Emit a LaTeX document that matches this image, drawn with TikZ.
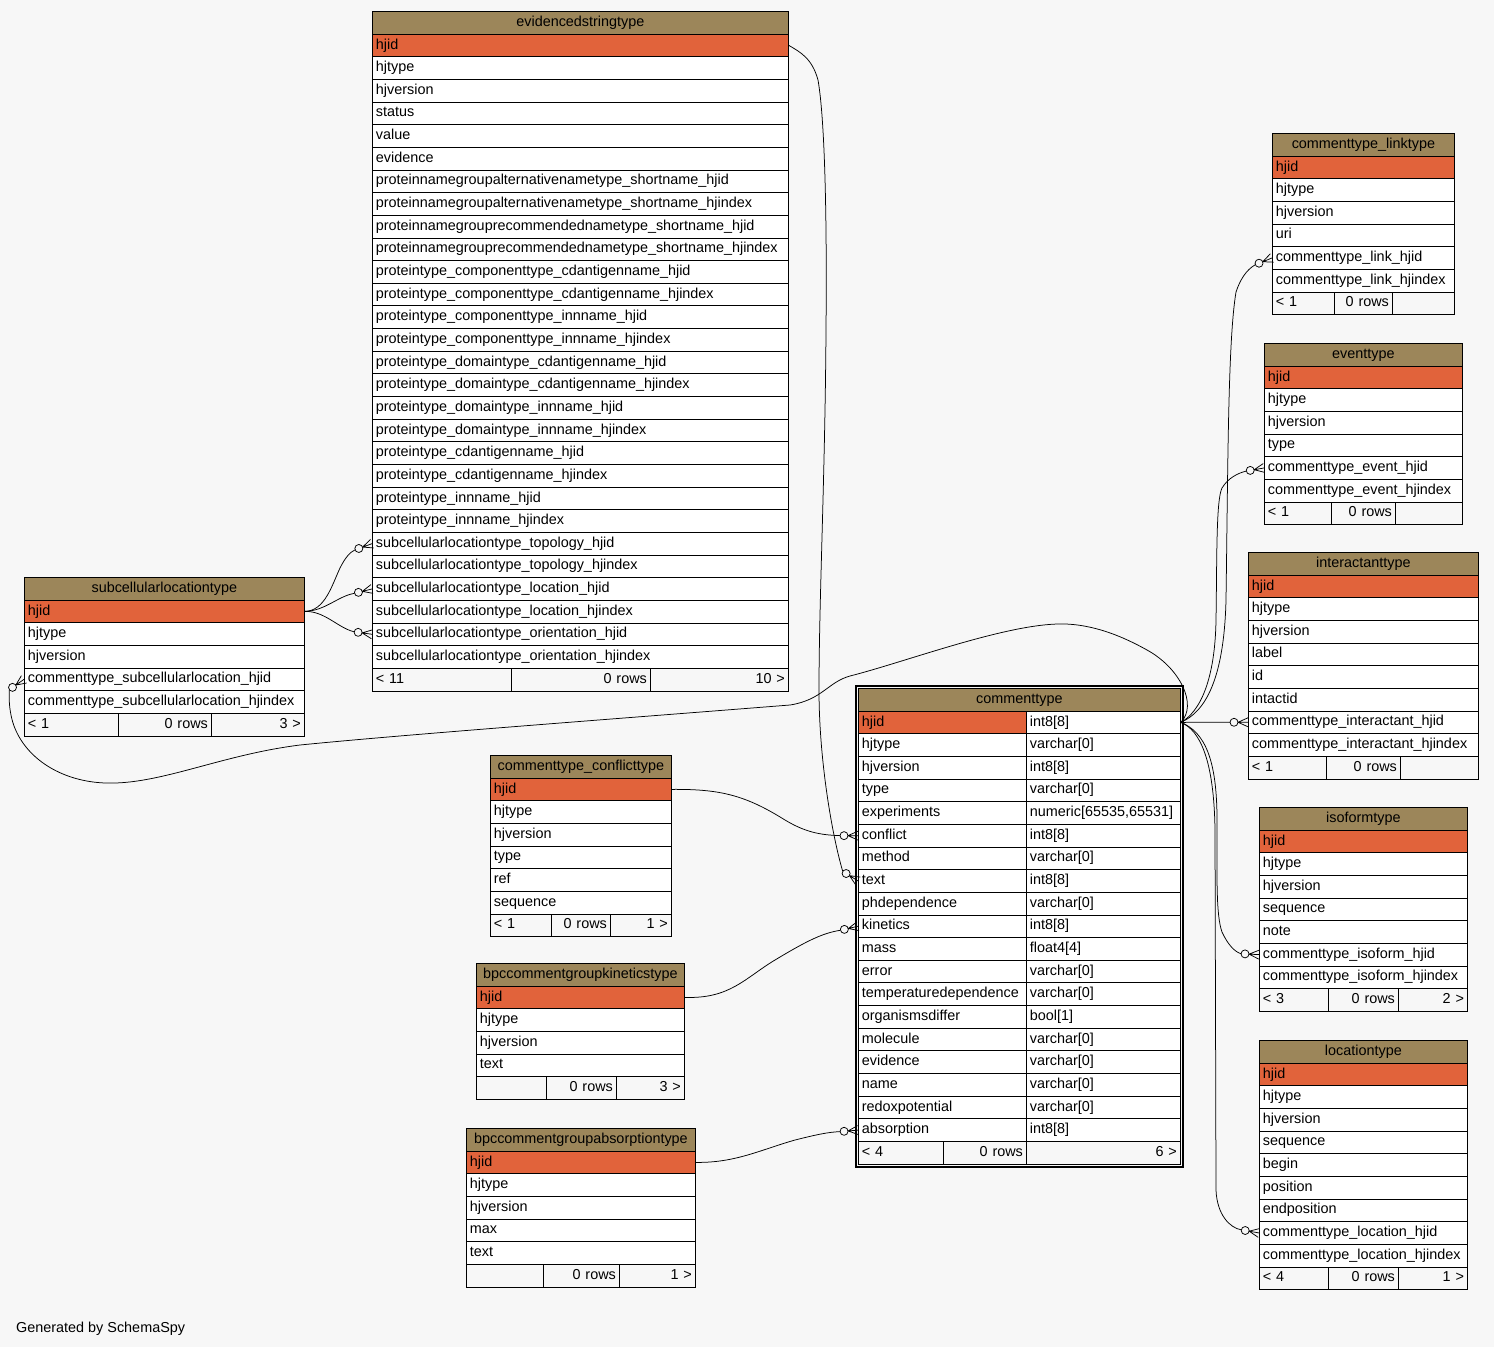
\documentclass[tikz,border=0pt]{standalone}
\usepackage{fontspec}
\setmainfont{Liberation Sans}
\usetikzlibrary{calc}

\definecolor{paper}{HTML}{F7F7F7}
\definecolor{headfill}{HTML}{9C865A}
\definecolor{keyfill}{HTML}{E1633B}

\newcommand\rowh{22.65}
\newcommand\cellfont{\fontsize{14.4}{17}\selectfont}

\tikzset{
  cell/.style={draw=black, line width=0.8pt, anchor=north west,
    inner xsep=3.5pt, inner ysep=0pt, minimum height=\rowh pt,
    text height=10.5pt, text depth=3.2pt, align=left, font=\cellfont},
  headcell/.style={cell, fill=headfill, align=center},
  keycell/.style={cell, fill=keyfill},
  fieldcell/.style={cell, fill=white},
  footcell/.style={cell, fill=paper},
  fk/.style={draw=black, line width=0.75pt},
}

% "zero or many" end of a relationship at anchor #1; #2 is the direction the line comes from
\newcommand\crowend[2]{%
  \draw[fk, fill=paper] ($(#1)+(#2:14)$) circle[radius=4];
  \draw[fk] ($(#1)+(#2:10)$) -- ($(#1)+({#2+90}:4.5)$)
            ($(#1)+(#2:10)$) -- (#1)
            ($(#1)+(#2:10)$) -- ($(#1)+({#2-90}:4.5)$);
}

\newcommand\footsplit[2]{\def\footleft{#1}\def\footright{#2}}

% #1 id, #2 left x, #3 right x, #4 top y, #5 title, #6 columns after hjid,
% #7 and #8 footer dividers, #9 footer texts {left}{right}
\newcommand\dbtable[9]{%
  \pgfmathsetmacro\tw{#3-#2-7}%
  \footsplit#9%
  \node[headcell, text width=\tw pt] (#1) at (#2,#4) {#5};
  \node[keycell, text width=\tw pt] (#1-hjid) at (#2,#4+\rowh) {hjid};
  \foreach \f [count=\i from 2] in {#6} {
    \node[fieldcell, text width=\tw pt] (#1-\f) at (#2,#4+\i*\rowh) {\f};
    \xdef\nrows{\i}
  }
  \pgfmathsetmacro\fy{#4+(\nrows+1)*\rowh}%
  \pgfmathsetmacro\wa{#7-#2-7}%
  \pgfmathsetmacro\wb{#8-#7-7}%
  \pgfmathsetmacro\wc{#3-#8-7}%
  \node[footcell, text width=\wa pt] (#1-fa) at (#2,\fy) {\footleft};
  \node[footcell, text width=\wb pt, align=right] (#1-fb) at (#7,\fy) {0 rows};
  \node[footcell, text width=\wc pt, align=right] (#1-fc) at (#8,\fy) {\footright};
}

\begin{document}
\catcode`\_=12
\lefthyphenmin=62
\righthyphenmin=62
\hyphenpenalty=10000
\begin{tikzpicture}[x=1pt, y=-1pt]
\useasboundingbox[fill=paper] (0,0) rectangle (1494,1347);

% ---------- tables ----------
\dbtable{est}{372}{788}{11}{evidencedstringtype}{hjtype, hjversion, status, value, evidence,
  proteinnamegroupalternativenametype_shortname_hjid, proteinnamegroupalternativenametype_shortname_hjindex,
  proteinnamegrouprecommendednametype_shortname_hjid, proteinnamegrouprecommendednametype_shortname_hjindex,
  proteintype_componenttype_cdantigenname_hjid, proteintype_componenttype_cdantigenname_hjindex,
  proteintype_componenttype_innname_hjid, proteintype_componenttype_innname_hjindex,
  proteintype_domaintype_cdantigenname_hjid, proteintype_domaintype_cdantigenname_hjindex,
  proteintype_domaintype_innname_hjid, proteintype_domaintype_innname_hjindex,
  proteintype_cdantigenname_hjid, proteintype_cdantigenname_hjindex,
  proteintype_innname_hjid, proteintype_innname_hjindex,
  subcellularlocationtype_topology_hjid, subcellularlocationtype_topology_hjindex,
  subcellularlocationtype_location_hjid, subcellularlocationtype_location_hjindex,
  subcellularlocationtype_orientation_hjid, subcellularlocationtype_orientation_hjindex}{511}{650}{{< 11}{10 >}}

\dbtable{sub}{24}{304}{577}{subcellularlocationtype}{hjtype, hjversion,
  commenttype_subcellularlocation_hjid, commenttype_subcellularlocation_hjindex}{118}{211}{{< 1}{3 >}}

\dbtable{lnk}{1272}{1454}{133}{commenttype_linktype}{hjtype, hjversion, uri,
  commenttype_link_hjid, commenttype_link_hjindex}{1334}{1392}{{< 1}{}}

\dbtable{evt}{1264}{1462}{343}{eventtype}{hjtype, hjversion, type,
  commenttype_event_hjid, commenttype_event_hjindex}{1331}{1395}{{< 1}{}}

\dbtable{ita}{1248}{1478}{552}{interactanttype}{hjtype, hjversion, label, id, intactid,
  commenttype_interactant_hjid, commenttype_interactant_hjindex}{1326}{1400}{{< 1}{}}

\dbtable{iso}{1259}{1467}{807}{isoformtype}{hjtype, hjversion, sequence, note,
  commenttype_isoform_hjid, commenttype_isoform_hjindex}{1328}{1398}{{< 3}{2 >}}

\dbtable{loc}{1259}{1467}{1040}{locationtype}{hjtype, hjversion, sequence, begin, position, endposition,
  commenttype_location_hjid, commenttype_location_hjindex}{1328}{1398}{{< 4}{1 >}}

\dbtable{cf}{490}{671}{755}{commenttype_conflicttype}{hjtype, hjversion, type, ref, sequence}{551}{610}{{< 1}{1 >}}

\dbtable{kin}{476}{684}{963}{bpccommentgroupkineticstype}{hjtype, hjversion, text}{546}{616}{{}{3 >}}

\dbtable{abs}{466}{695}{1128}{bpccommentgroupabsorptiontype}{hjtype, hjversion, max, text}{543}{619}{{}{1 >}}

% commenttype: two columns and a double frame
\node[headcell, text width=315pt] (ct) at (858,688) {commenttype};
\node[keycell, text width=161pt] (ct-hjid) at (858,688+\rowh) {hjid};
\node[fieldcell, text width=147pt] (ct-hjid-t) at (1026,688+\rowh) {int8[8]};
\foreach \f/\t [count=\i from 2] in {hjtype/varchar[0], hjversion/int8[8], type/varchar[0],
    experiments/{numeric[65535,65531]}, conflict/int8[8], method/varchar[0], text/int8[8],
    phdependence/varchar[0], kinetics/int8[8], mass/float4[4], error/varchar[0],
    temperaturedependence/varchar[0], organismsdiffer/bool[1], molecule/varchar[0],
    evidence/varchar[0], name/varchar[0], redoxpotential/varchar[0], absorption/int8[8]} {
  \node[fieldcell, text width=161pt] (ct-\f) at (858,688+\i*\rowh) {\f};
  \node[fieldcell, text width=147pt] (ct-\f-t) at (1026,688+\i*\rowh) {\t};
}
\node[footcell, text width=78pt] (ct-fa) at (858,688+20*\rowh) {< 4};
\node[footcell, text width=76pt, align=right] (ct-fb) at (943,688+20*\rowh) {0 rows};
\node[footcell, text width=147pt, align=right] (ct-fc) at (1026,688+20*\rowh) {6 >};
\draw[line width=2pt] (855.5,685.5) rectangle (1182.5,1167.3);

% ---------- relationships ----------
\draw[fk] (est-hjid.east) .. controls (800,52) and (812,58) .. (818,80)
  .. controls (825,120) and (827,220) .. (826,330)
  .. controls (825,480) and (819,600) .. (819,690)
  .. controls (819,760) and (832,835) .. ($(ct-text.west)+(212:18)$);
\crowend{ct-text.west}{212}

\draw[fk] (sub-hjid.east) .. controls (325,611) and (332,585) .. (340,568)
  .. controls (345,558) and (350,552) .. ($(est-subcellularlocationtype_topology_hjid.west)+(160:18)$);
\crowend{est-subcellularlocationtype_topology_hjid.west}{160}
\draw[fk] (sub-hjid.east) .. controls (325,611) and (338,596) .. ($(est-subcellularlocationtype_location_hjid.west)+(166:18)$);
\crowend{est-subcellularlocationtype_location_hjid.west}{166}
\draw[fk] (sub-hjid.east) .. controls (325,611) and (338,628) .. ($(est-subcellularlocationtype_orientation_hjid.west)+(188:18)$);
\crowend{est-subcellularlocationtype_orientation_hjid.west}{188}

\draw[fk] (ct-hjid-t.east) .. controls (1198,705) and (1180,668) .. (1147,650)
  .. controls (1115,632) and (1085,623) .. (1057,624)
  .. controls (1000,626) and (905,662) .. (850,676)
  .. controls (828,682) and (822,700) .. (790,705)
  .. controls (600,720) and (400,735) .. (300,745)
  .. controls (220,755) and (160,785) .. (105,783)
  .. controls (55,781) and (18,752) .. (11,715)
  .. controls (9,705) and (9,697) .. ($(sub-commenttype_subcellularlocation_hjid.west)+(145:18)$);
\crowend{sub-commenttype_subcellularlocation_hjid.west}{145}

\draw[fk] (ct-hjid-t.east) .. controls (1205,712) and (1224,680) .. (1226,600)
  .. controls (1228,460) and (1228,340) .. (1236,292)
  .. controls (1240,280) and (1246,270) .. ($(lnk-commenttype_link_hjid.west)+(158:18)$);
\crowend{lnk-commenttype_link_hjid.west}{158}

\draw[fk] (ct-hjid-t.east) .. controls (1200,712) and (1215,680) .. (1216,620)
  .. controls (1217,560) and (1216,500) .. (1222,488)
  .. controls (1228,478) and (1238,473) .. ($(evt-commenttype_event_hjid.west)+(170:18)$);
\crowend{evt-commenttype_event_hjid.west}{170}

\draw[fk] (ct-hjid-t.east) -- ($(ita-commenttype_interactant_hjid.west)+(180:18)$);
\crowend{ita-commenttype_interactant_hjid.west}{180}

\draw[fk] (ct-hjid-t.east) .. controls (1205,732) and (1217,760) .. (1217,820)
  .. controls (1217,880) and (1216,915) .. (1222,932)
  .. controls (1228,945) and (1235,952) .. ($(iso-commenttype_isoform_hjid.west)+(183:18)$);
\crowend{iso-commenttype_isoform_hjid.west}{183}

\draw[fk] (ct-hjid-t.east) .. controls (1200,730) and (1214,760) .. (1215,830)
  -- (1216,1190) .. controls (1217,1215) and (1230,1228) .. ($(loc-commenttype_location_hjid.west)+(190:18)$);
\crowend{loc-commenttype_location_hjid.west}{190}

\draw[fk] (cf-hjid.east) .. controls (720,789) and (745,795) .. (785,820)
  .. controls (805,832) and (820,835) .. ($(ct-conflict.west)+(180:18)$);
\crowend{ct-conflict.west}{180}

\draw[fk] (kin-hjid.east) .. controls (730,999) and (745,978) .. (775,960)
  .. controls (805,942) and (822,933) .. ($(ct-kinetics.west)+(167:18)$);
\crowend{ct-kinetics.west}{167}

\draw[fk] (abs-hjid.east) .. controls (735,1163) and (760,1150) .. (795,1140)
  .. controls (815,1135) and (828,1132) .. ($(ct-absorption.west)+(175:18)$);
\crowend{ct-absorption.west}{175}

\node[anchor=base west, font=\cellfont, inner sep=0pt] (credit) at (16,1332) {Generated by SchemaSpy};
\end{tikzpicture}
\end{document}
